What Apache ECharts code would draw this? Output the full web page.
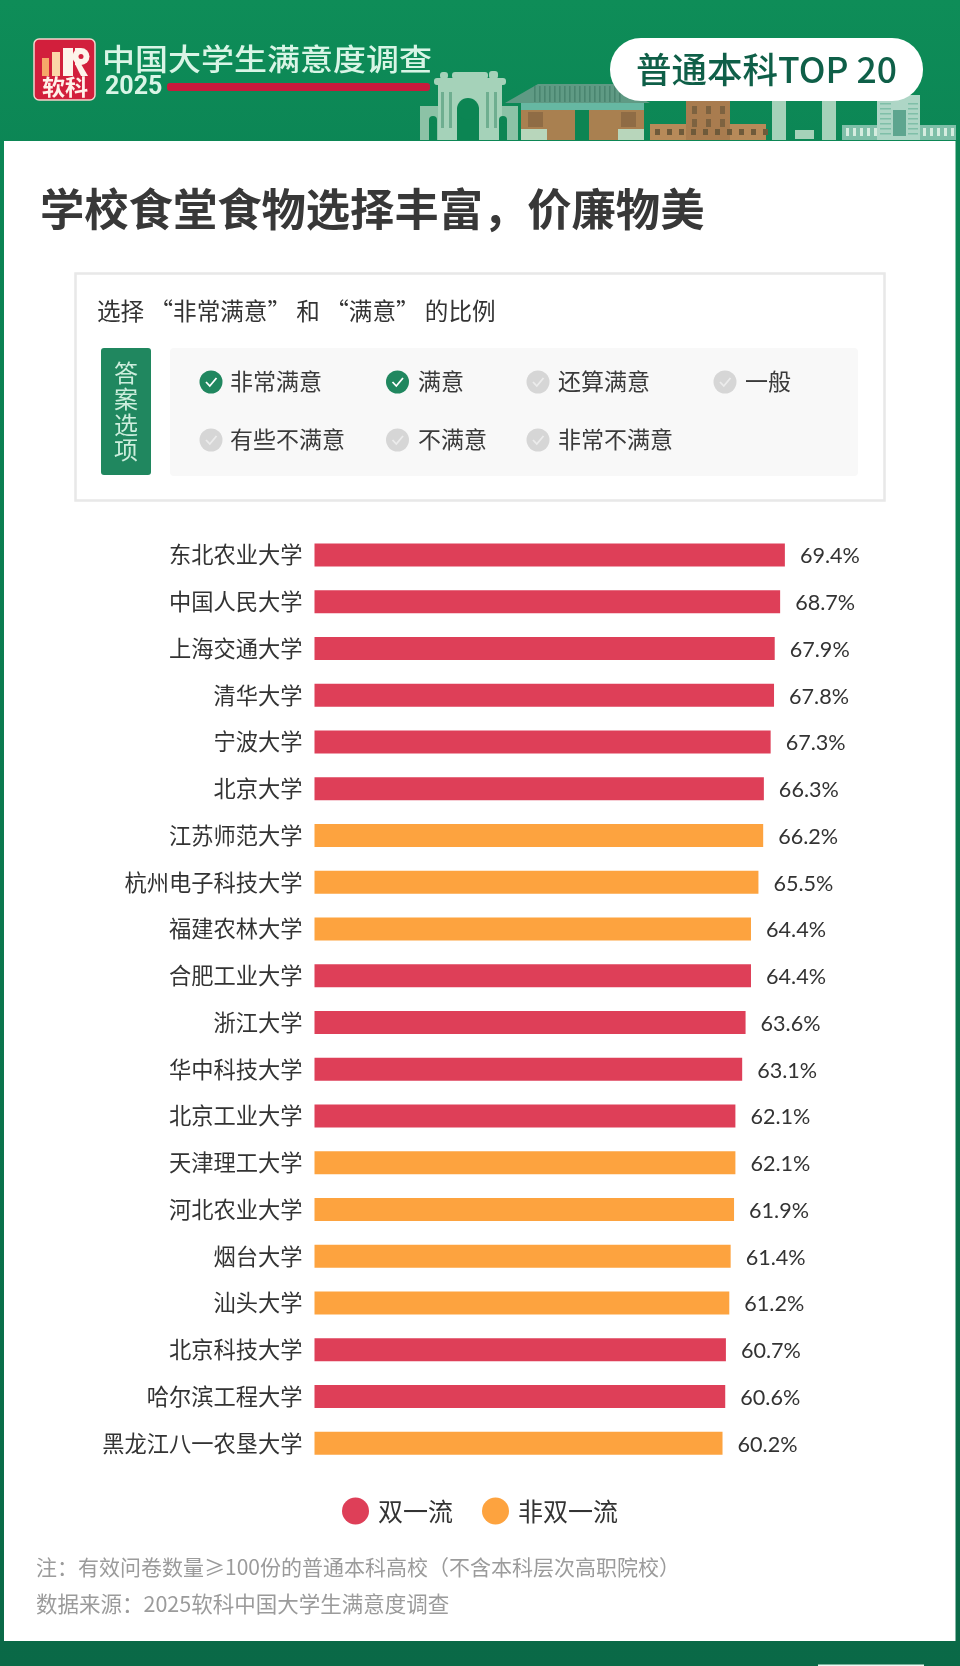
<!DOCTYPE html>
<html>
<head>
<meta charset="utf-8">
<title>学校食堂食物选择丰富，价廉物美</title>
<script src="https://cdn.jsdelivr.net/npm/echarts@6/dist/echarts.min.js"></script>
<style>
html,body{margin:0;padding:0;background:#fff;}
#main{width:960px;height:1666px;}
</style>
</head>
<body>
<div id="main"></div>
<script>
const mainE1=document.querySelector('#main');

const schools=['东北农业大学','中国人民大学','上海交通大学','清华大学','宁波大学','北京大学','江苏师范大学','杭州电子科技大学','福建农林大学','合肥工业大学','浙江大学','华中科技大学','北京工业大学','天津理工大学','河北农业大学','烟台大学','汕头大学','北京科技大学','哈尔滨工程大学','黑龙江八一农垦大学'];
const shuangyiliu=[69.4,68.7,67.9,67.8,67.3,66.3,null,null,null,64.4,63.6,63.1,62.1,null,null,null,null,60.7,60.6,null];
const feishuangyiliu=[null,null,null,null,null,null,66.2,65.5,64.4,null,null,null,null,62.1,61.9,61.4,61.2,null,null,60.2];
const seriesNames=['双一流','非双一流'];
const optionsRow1=['非常满意','满意','还算满意','一般'];
const optionsRow2=['有些不满意','不满意','非常不满意'];
const pickedOptions=['非常满意','满意'];

const CJK='"Noto Sans CJK SC","Noto Sans",sans-serif';
const RED='#de3f58', ORANGE='#fda33f', GREEN='#20875f', INK='#333333';

function rect(x,y,w,h,fill,r,extra){
    return Object.assign({type:'rect',shape:{x:x,y:y,width:w,height:h,r:r||0},style:{fill:fill}},extra||{});
}
function label(x,y,str,size,fill,extra){
    let o=extra||{};
    return {type:'text',x:x,y:y,scaleX:o.scaleX||1,style:{
        text:str,fill:fill,font:(o.weight||'normal')+' '+size+'px '+(o.family||CJK),
        textAlign:o.align||'left',textVerticalAlign:'middle'}};
}
function poly(points,fill){
    return {type:'polygon',shape:{points:points},style:{fill:fill}};
}

// 顶部的校园建筑剪影，只是装饰
function skyline(){
    let g=[];
    let pale='#a5d2b9', mid='#8cc2a6', dark='#0c8553', brown='#a98050', wood='#8f6c45';
    // 牌坊
    g.push(rect(420,106,98,34,mid));
    g.push(rect(438,82,64,58,pale));
    g.push(rect(434,78,72,7,pale,3));
    g.push(rect(452,72,36,7,pale,3));
    g.push(rect(440,72,8,7,pale,3));
    g.push(rect(489,71,9,8,pale,3));
    for(let x of [441,449,486,494]) g.push(rect(x,92,3,36,'#6fae90'));
    g.push(rect(457,108,22,32,dark));
    g.push({type:'circle',shape:{cx:468,cy:109,r:11},style:{fill:dark}});
    for(let x of [429,499]){
        g.push(rect(x,120,8,20,dark));
        g.push({type:'circle',shape:{cx:x+4,cy:120,r:4},style:{fill:dark}});
    }
    // 古建筑
    g.push(poly([[538,84],[614,84],[650,103],[505,103]],'#5f9a84'));
    for(let x=534;x<622;x+=5) g.push(rect(x,86,1.6,16,'#4a8570'));
    g.push(rect(521,103,123,7,'#66b8a2'));
    g.push(rect(521,110,123,30,brown));
    g.push(rect(521,129,26,11,'#b8d6bb'));
    g.push(rect(618,129,26,11,'#b8d6bb'));
    g.push(rect(528,112,15,15,wood));
    g.push(rect(621,112,15,15,wood));
    g.push(rect(575,110,14,30,dark));
    // 红砖楼
    g.push(rect(650,124,116,16,'#b78a59'));
    g.push(rect(686,100,44,40,'#a97c4f'));
    for(let x=655;x<764;x+=12) g.push(rect(x,129,5,6,'#6f5a3a'));
    for(let x of [692,706,720]){
        g.push(rect(x,106,5,8,'#7d6240'));
        g.push(rect(x,119,5,8,'#7d6240'));
    }
    // 双柱
    g.push(rect(772,100,14,40,pale));
    g.push(rect(822,100,14,40,pale));
    g.push(rect(795,130,19,9,pale));
    // 高楼
    g.push(rect(842,125,114,15,'#7fbfa8'));
    g.push(rect(877,95,43,45,'#aed6c6'));
    g.push(rect(893,110,13,26,'#5ea58f'));
    for(let x=846;x<955;x+=7){
        if(x<876||x>921) g.push(rect(x,128,3,8,'#d6ecdf'));
    }
    for(let y=103;y<136;y+=5){
        g.push(rect(880,y,11,1.5,'#7fbfa8'));
        g.push(rect(908,y,10,1.5,'#7fbfa8'));
    }
    return g;
}

function logo(){
    let w='#fdf3ea';
    return [
        rect(34,39,61,61,'#d21f3c',5,{style:{fill:'#d21f3c',stroke:'#f3d5cd',lineWidth:1.5}}),
        rect(42,58,7,18,'#f6a869'),
        rect(52,52,8,24,'#fbd6a8'),
        rect(63,48,10,28,w),
        {type:'circle',shape:{cx:81,cy:56.5,r:8.5},style:{fill:w}},
        rect(75,48,6,17,w),
        poly([[75,64],[81,64],[88,76],[81,76]],w),
        {type:'circle',shape:{cx:81,cy:56.5,r:2.5},style:{fill:'#d21f3c'}},
        label(42,87,'软科',22,'#fff2ea',{weight:'bold',scaleX:1.05})
    ];
}

function optionItems(){
    let g=[];
    let cx=[211,397.5,538,725], tx=[230,418,558,745];
    let rows=[[optionsRow1,382],[optionsRow2,440]];
    rows.forEach(function(row){
        row[0].forEach(function(name,i){
            let on=pickedOptions.indexOf(name)>=0, y=row[1];
            g.push({type:'circle',shape:{cx:cx[i],cy:y,r:11.5},style:{fill:on?GREEN:'#d6d6d6'}});
            g.push({type:'polyline',shape:{points:[[cx[i]-5,y],[cx[i]-1.2,y+4],[cx[i]+5.5,y-4]]},
                style:{stroke:on?'#ffffff':'#ececec',lineWidth:1.8,fill:null}});
            g.push(label(tx[i],y-1,name,23,'#3a3a3a'));
        });
    });
    return g;
}

let myChart=echarts.init(mainE1,null,{renderer:'canvas'});

let graphics=[].concat(
    skyline(),
    [
        rect(4,141,951.5,1500,'#ffffff'),
        rect(818,1664.6,106,1.4,'#e8fbf2')
    ],
    logo(),
    [
        label(102,58.5,'中国大学生满意度调查',29.6,'#d9f5e6',{scaleX:1.115,weight:'500'}),
        label(105,88,'2025',25,'#d9f5e6',{weight:'bold',family:'Roboto,sans-serif'}),
        rect(167,83,263,8,'#c81a3c',3),
        rect(610,38,313,63,'#ffffff',31),
        label(766.5,70,'普通本科TOP 20',35.5,'#0f5f48',{weight:'500',align:'center'}),
        label(40,209,'学校食堂食物选择丰富，价廉物美',44.3,'#383838',{weight:'bold'}),
        rect(75.500,273.500,809,227,'#ffffff',0,{style:{fill:'#ffffff',stroke:'#e8e8e8',lineWidth:2.5}}),
        label(97,311,'选择 “非常满意” 和 “满意” 的比例',23.6,INK),
        rect(101,348,50,127,GREEN,3),
        label(126,373,'答',24,'#cdeedd',{align:'center'}),
        label(126,399,'案',24,'#cdeedd',{align:'center'}),
        label(126,425,'选',24,'#cdeedd',{align:'center'}),
        label(126,450,'项',24,'#cdeedd',{align:'center'}),
        rect(170,348,688,128,'#f8f8f8',4)
    ],
    optionItems(),
    [
        label(36,1567,'注：有效问卷数量≥100份的普通本科高校（不含本科层次高职院校）',21,'#9b9b9b'),
        label(36,1604,'数据来源：2025软科中国大学生满意度调查',21.5,'#9b9b9b')
    ]
);

function barSeries(name,data,color){
    return {
        name:name,
        type:'bar',
        stack:'all',
        data:data,
        barWidth:23,
        itemStyle:{color:color},
        label:{
            show:true,
            position:'right',
            distance:15,
            offset:[0,1.5],
            color:INK,
            fontFamily:'Lato,sans-serif',
            fontSize:21.6,
            formatter:function(p){return p.value.toFixed(1)+'%';}
        },
        silent:true,
        animation:false
    };
}

let option={
    animation:false,
    backgroundColor:new echarts.graphic.LinearGradient(0,0,0,1,[
        {offset:0,color:'#0e8d58'},
        {offset:0.09,color:'#0c8655'},
        {offset:1,color:'#0a6947'}
    ]),
    graphic:{elements:graphics},
    grid:{left:314.5,top:531.6,width:610,height:935,containLabel:false},
    xAxis:{type:'value',min:0,max:90,show:false},
    yAxis:{
        type:'category',
        data:schools,
        inverse:true,
        axisLine:{show:false},
        axisTick:{show:false},
        axisLabel:{color:INK,fontFamily:CJK,fontSize:22.25,margin:12}
    },
    legend:{
        data:seriesNames,
        left:337,
        top:1492.5,
        icon:'circle',
        itemWidth:27,
        itemHeight:27,
        itemGap:29,
        selectedMode:false,
        textStyle:{color:INK,fontFamily:CJK,fontSize:25,padding:[0,0,0,4]}
    },
    series:[
        barSeries(seriesNames[0],shuangyiliu,RED),
        barSeries(seriesNames[1],feishuangyiliu,ORANGE)
    ]
};

myChart.setOption(option);
</script>
</body>
</html>
